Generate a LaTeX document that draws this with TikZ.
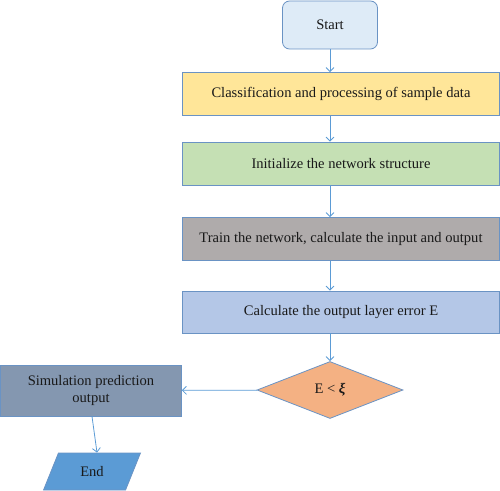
\documentclass[tikz,border=0pt]{standalone}
\usepackage{fontspec}
\setmainfont{Liberation Serif}
\usepackage{tikz}
\usetikzlibrary{shapes.geometric,arrows.meta}
\definecolor{lineblue}{HTML}{5B9BD5}
\definecolor{edgeblue}{HTML}{6A93C4}
\definecolor{startfill}{HTML}{DEEBF7}
\definecolor{classfill}{HTML}{FFE699}
\definecolor{initfill}{HTML}{C5E0B4}
\definecolor{trainfill}{HTML}{AFABAB}
\definecolor{calcfill}{HTML}{B4C7E7}
\definecolor{testfill}{HTML}{F4B183}
\definecolor{simfill}{HTML}{8497B0}
\definecolor{endfill}{HTML}{5B9BD5}

\begin{document}
\begin{tikzpicture}[
  x=1bp, y=-1bp,
  every node/.style={font=\fontsize{14.6}{16}\selectfont, text=black!90, inner sep=0pt},
  stepbox/.style={draw=edgeblue, line width=0.8bp, minimum width=317bp, minimum height=43bp},
  flow/.style={draw=lineblue, line width=0.8bp, -{Straight Barb[length=4bp,width=8bp]}}
]
\useasboundingbox (0,0) rectangle (500,491);
\node[draw=edgeblue, line width=0.8bp, rounded corners=7bp, fill=startfill,
  minimum width=95bp, minimum height=48bp] (start) at (330,25) {Start};
\node[stepbox, fill=classfill] (classify) at (341,94) {Classification and processing of sample data};
\node[stepbox, fill=initfill] (init) at (341,163.5) {Initialize the network structure};
\node[stepbox, fill=trainfill] (train) at (341,239) {Train the network, calculate the input and output};
\node[stepbox, fill=calcfill, minimum height=42bp] (calc) at (341,312) {Calculate the output layer error E};
\node[diamond, draw=edgeblue, line width=0.8bp, fill=testfill,
  minimum width=146bp, minimum height=57bp] (test) at (330,390) {E < \textbf{\textit{ξ}}};
\node[draw=edgeblue, line width=0.8bp, fill=simfill, minimum width=181bp, minimum height=51bp,
  align=center] (sim) at (91,390.5) {Simulation prediction\\[1bp]output};
\node[trapezium, trapezium left angle=63, trapezium right angle=117, trapezium stretches=true,
  draw=edgeblue, line width=0.8bp, fill=endfill, minimum width=97bp, minimum height=37bp] (end) at (92,471.5) {End};

% vertical chain
\draw[flow] (start) -- (start |- classify.north);
\foreach \a/\b in {classify/init,init/train,train/calc}
  \draw[flow] (\a.south -| start) -- (\b.north -| start);
\draw[flow] (calc.south -| start) -- (test);
\draw[flow] (test) -- (sim);
\draw[flow] ([xshift=1bp]sim.south) -- ([xshift=5bp]end.north);
\end{tikzpicture}
\end{document}
